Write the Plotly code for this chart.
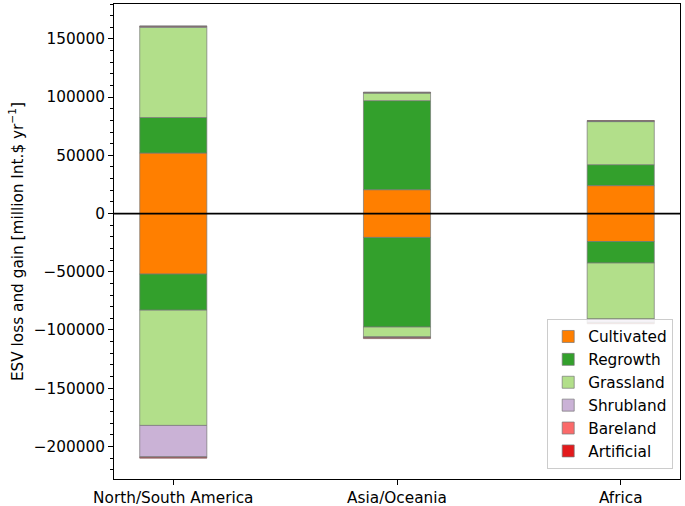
import plotly.graph_objects as go

categories = ["North/South America", "Asia/Oceania", "Africa"]
x_pos = [0, 1, 2]

series_names = ["Cultivated", "Regrowth", "Grassland", "Shrubland", "Bareland", "Artificial"]
series_colors = ["#ff7f00", "#33a02c", "#b2df8a", "#cab2d6", "#fb6a6a", "#e31a1c"]

gain_cultivated = [52000, 20500, 24000]
gain_regrowth = [30500, 76500, 18000]
gain_grassland = [77500, 6500, 37000]
gain_shrubland = [600, 300, 400]
gain_bareland = [200, 200, 200]
gain_artificial = [400, 300, 300]

loss_cultivated = [-52000, -20500, -24000]
loss_regrowth = [-31000, -77000, -18500]
loss_grassland = [-99000, -8500, -48000]
loss_shrubland = [-27000, -300, -3000]
loss_bareland = [-400, -300, -400]
loss_artificial = [-700, -800, -800]

gains = [gain_cultivated, gain_regrowth, gain_grassland, gain_shrubland, gain_bareland, gain_artificial]
losses = [loss_cultivated, loss_regrowth, loss_grassland, loss_shrubland, loss_bareland, loss_artificial]

FONT = "DejaVu Sans"
FS = 15.3
fig = go.Figure()
edge = dict(color="rgba(120,120,120,0.7)", width=1)
for name, color, g, l in zip(series_names, series_colors, gains, losses):
    fig.add_trace(go.Bar(x=x_pos, y=g, name=name, marker=dict(color=color, line=edge),
                         width=0.3, legendgroup=name, showlegend=True))
    fig.add_trace(go.Bar(x=x_pos, y=l, name=name, marker=dict(color=color, line=edge),
                         width=0.3, legendgroup=name, showlegend=False))

fig.add_hline(y=0, line_color="black", line_width=1.8)

fig.update_layout(
    width=685, height=506,
    barmode="relative",
    plot_bgcolor="white", paper_bgcolor="white",
    margin=dict(l=114, r=5, t=4, b=27),
    font=dict(family=FONT, size=FS, color="black"),
    showlegend=True,
    legend=dict(x=0.988, y=0.021, xanchor="right", yanchor="bottom",
                bordercolor="#cccccc", borderwidth=1, bgcolor="rgba(255,255,255,0.85)",
                font=dict(family=FONT, size=FS), tracegroupgap=3, traceorder="normal"),
    xaxis=dict(range=[-0.265, 2.265], tickvals=x_pos, ticktext=categories, automargin=False,
               showline=True, linecolor="black", linewidth=1, mirror=True,
               ticks="outside", ticklen=5, tickcolor="black", showgrid=False, zeroline=False),
    yaxis=dict(range=[-228000, 180000], tickvals=[-200000, -150000, -100000, -50000, 0, 50000, 100000, 150000],
               tickformat="d", automargin=False,
               showline=True, linecolor="black", linewidth=1, mirror=True,
               ticks="outside", ticklen=5, tickcolor="black", showgrid=False, zeroline=False,
               minor=dict(dtick=10000, tick0=0, ticks="outside", ticklen=3, tickcolor="black", showgrid=False),
               title=dict(text="ESV loss and gain [million Int.$ yr<sup>−1</sup>]", standoff=6,
                          font=dict(family=FONT, size=FS))),
)

fig.write_html("out.html", config={"displayModeBar": False},
               post_script="document.body.style.margin='0';document.body.style.padding='0';")
